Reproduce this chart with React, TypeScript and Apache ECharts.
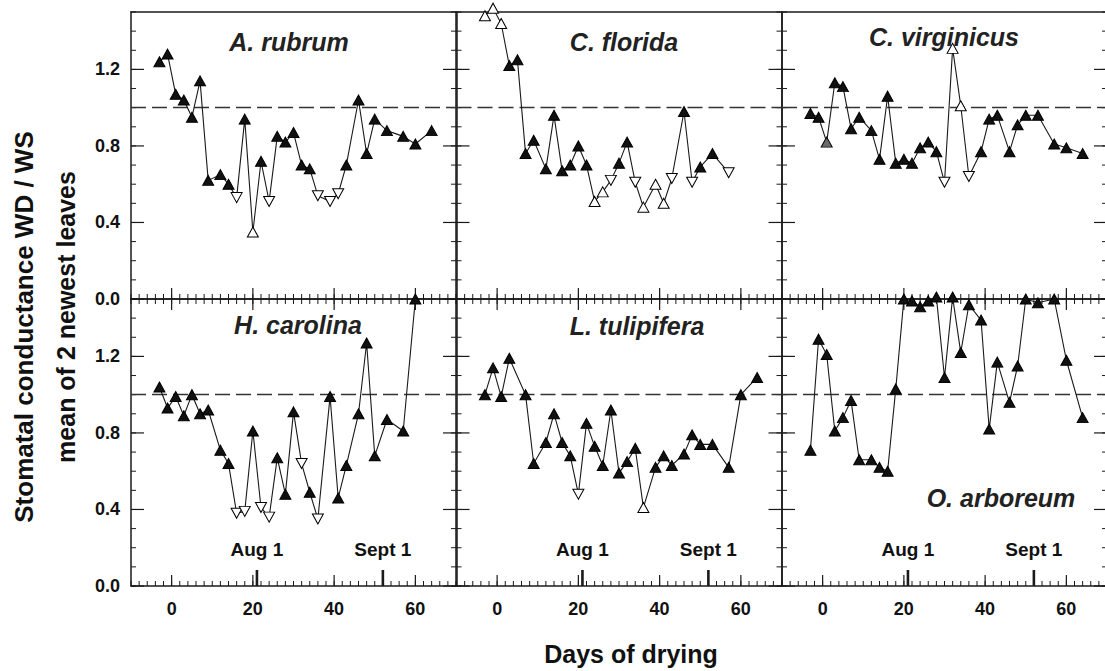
import React, { useEffect, useRef } from 'react';
import * as echarts from 'echarts';

// ---------- data ----------
const speciesNames = ['A. rubrum', 'C. florida', 'C. virginicus', 'H. carolina', 'L. tulipifera', 'O. arboreum'];

const rubrumDays = [-3, -1, 1, 3, 5, 7, 9, 12, 14, 16, 18, 20, 22, 24, 26, 28, 30, 32, 34, 36, 39, 41, 43, 46, 48, 50, 53, 57, 60, 64];
const rubrumValues = [1.24, 1.28, 1.07, 1.04, 0.95, 1.14, 0.62, 0.65, 0.6, 0.53, 0.94, 0.35, 0.72, 0.51, 0.85, 0.82, 0.87, 0.7, 0.68, 0.54, 0.51, 0.55, 0.7, 1.04, 0.76, 0.94, 0.88, 0.85, 0.81, 0.88];
const rubrumKinds = ['f', 'f', 'f', 'f', 'f', 'f', 'f', 'f', 'f', 'd', 'f', 'u', 'f', 'd', 'f', 'f', 'f', 'f', 'f', 'd', 'd', 'd', 'f', 'f', 'f', 'f', 'f', 'f', 'f', 'f'];

const floridaDays = [-3, -1, 1, 3, 5, 7, 9, 12, 14, 16, 18, 20, 22, 24, 26, 28, 30, 32, 34, 36, 39, 41, 43, 46, 48, 50, 53, 57];
const floridaValues = [1.48, 1.52, 1.44, 1.22, 1.25, 0.76, 0.83, 0.68, 0.96, 0.67, 0.7, 0.8, 0.7, 0.51, 0.56, 0.62, 0.71, 0.82, 0.61, 0.48, 0.6, 0.5, 0.63, 0.98, 0.61, 0.69, 0.76, 0.66];
const floridaKinds = ['u', 'u', 'u', 'f', 'f', 'f', 'f', 'f', 'f', 'f', 'f', 'f', 'f', 'u', 'u', 'd', 'f', 'f', 'd', 'u', 'u', 'u', 'd', 'f', 'd', 'f', 'f', 'd'];

const virginicusDays = [-3, -1, 1, 3, 5, 7, 9, 12, 14, 16, 18, 20, 22, 24, 26, 28, 30, 32, 34, 36, 39, 41, 43, 46, 48, 50, 53, 57, 60, 64];
const virginicusValues = [0.97, 0.95, 0.82, 1.13, 1.11, 0.89, 0.95, 0.88, 0.73, 1.06, 0.71, 0.73, 0.71, 0.79, 0.82, 0.77, 0.61, 1.31, 1.01, 0.64, 0.77, 0.94, 0.96, 0.77, 0.91, 0.96, 0.96, 0.81, 0.79, 0.76];
const virginicusKinds = ['f', 'f', 'g', 'f', 'f', 'f', 'f', 'f', 'f', 'f', 'f', 'f', 'f', 'f', 'f', 'f', 'd', 'u', 'u', 'd', 'f', 'f', 'f', 'f', 'f', 'f', 'f', 'f', 'f', 'f'];

const carolinaDays = [-3, -1, 1, 3, 5, 7, 9, 12, 14, 16, 18, 20, 22, 24, 26, 28, 30, 32, 34, 36, 39, 41, 43, 46, 48, 50, 53, 57, 60];
const carolinaValues = [1.04, 0.93, 0.99, 0.89, 1.0, 0.9, 0.92, 0.71, 0.64, 0.38, 0.39, 0.81, 0.41, 0.36, 0.67, 0.48, 0.91, 0.64, 0.49, 0.35, 0.99, 0.46, 0.63, 0.9, 1.27, 0.68, 0.87, 0.81, 1.5];
const carolinaKinds = ['f', 'f', 'f', 'f', 'f', 'f', 'f', 'f', 'f', 'd', 'd', 'f', 'd', 'd', 'f', 'f', 'f', 'd', 'f', 'd', 'f', 'f', 'f', 'f', 'f', 'f', 'f', 'f', 'f'];

const tulipiferaDays = [-3, -1, 1, 3, 7, 9, 12, 14, 16, 18, 20, 22, 24, 26, 28, 30, 32, 34, 36, 39, 41, 43, 46, 48, 50, 53, 57, 60, 64];
const tulipiferaValues = [1.0, 1.14, 0.99, 1.19, 1.0, 0.64, 0.75, 0.9, 0.75, 0.68, 0.48, 0.85, 0.73, 0.63, 0.92, 0.59, 0.65, 0.72, 0.41, 0.62, 0.68, 0.63, 0.69, 0.79, 0.74, 0.74, 0.62, 1.0, 1.09];
const tulipiferaKinds = ['f', 'f', 'f', 'f', 'f', 'f', 'f', 'f', 'f', 'f', 'd', 'f', 'f', 'f', 'f', 'f', 'f', 'f', 'u', 'f', 'f', 'f', 'f', 'f', 'f', 'f', 'f', 'f', 'f'];

const arboreumDays = [-3, -1, 1, 3, 5, 7, 9, 12, 14, 16, 18, 20, 22, 24, 26, 28, 30, 32, 34, 36, 39, 41, 43, 46, 48, 50, 53, 57, 60, 64];
const arboreumValues = [0.71, 1.29, 1.21, 0.81, 0.88, 0.97, 0.66, 0.66, 0.62, 0.6, 1.03, 1.5, 1.49, 1.46, 1.49, 1.51, 1.09, 1.51, 1.22, 1.47, 1.39, 0.82, 1.17, 0.96, 1.15, 1.5, 1.48, 1.5, 1.18, 0.88];
const arboreumKinds = ['f', 'f', 'f', 'f', 'f', 'f', 'f', 'f', 'f', 'f', 'f', 'f', 'f', 'f', 'f', 'f', 'f', 'f', 'f', 'f', 'f', 'f', 'f', 'f', 'f', 'f', 'f', 'f', 'f', 'f'];

const xMajorTicks = [0, 20, 40, 60];
const yMajorTicks = [0, 0.4, 0.8, 1.2];
const dateMarkDays = [21, 52];
const dateMarkLabels = ['Aug 1', 'Sept 1'];
const referenceLevel = 1.0;
const yAxisTitleLines = ['Stomatal conductance WD / WS', 'mean of 2 newest leaves'];
const xAxisTitle = 'Days of drying';

// ---------- layout ----------
const FONT = '"Liberation Sans", Arial, Helvetica, sans-serif';
const GRID_LEFTS = [131, 456.5, 782];
const GRID_TOPS = [12, 299];
const GRID_W = 325;
const GRID_H = 287;
const X_MIN = -10;
const X_MAX = 70;
const X_MINOR_STEP = 2;
const Y_MIN = 0;
const Y_MAX = 1.5;
const Y_MINOR_STEP = 0.1;
const DATE_LABEL_LEVEL = 0.19;
const TITLE_POS = [
  [289, 42],
  [624, 42],
  [944, 37],
  [298, 325],
  [637, 326],
  [1001, 498],
];
const INK = '#1a1a1a';

const panels = [
  { days: rubrumDays, values: rubrumValues, kinds: rubrumKinds },
  { days: floridaDays, values: floridaValues, kinds: floridaKinds },
  { days: virginicusDays, values: virginicusValues, kinds: virginicusKinds },
  { days: carolinaDays, values: carolinaValues, kinds: carolinaKinds },
  { days: tulipiferaDays, values: tulipiferaValues, kinds: tulipiferaKinds },
  { days: arboreumDays, values: arboreumValues, kinds: arboreumKinds },
];

// tick positions along the axes (axis decoration, not data)
const xMinorTicks: number[] = [];
for (let k = X_MIN / X_MINOR_STEP; k <= X_MAX / X_MINOR_STEP; k++) xMinorTicks.push(k * X_MINOR_STEP);
const yMinorTicks: number[] = [];
for (let k = 0; k <= Math.round((Y_MAX - Y_MIN) / Y_MINOR_STEP); k++) yMinorTicks.push(+(Y_MIN + k * Y_MINOR_STEP).toFixed(2));

// side: 0 bottom, 1 top, 2 left, 3 right ; [pos, side, length, width]
function tickItems(row: number): number[][] {
  const out: number[][] = [];
  xMinorTicks.forEach((v) => out.push([v, 0, 5, 1]));
  xMajorTicks.forEach((v) => out.push([v, 0, 11, 1.2]));
  if (row === 1) {
    xMinorTicks.forEach((v) => out.push([v, 1, 5, 1]));
    xMajorTicks.forEach((v) => out.push([v, 1, 11, 1.2]));
    dateMarkDays.forEach((v) => out.push([v, 0, 16, 2.6]));
  }
  [2, 3].forEach((side) => {
    yMinorTicks.forEach((v) => out.push([v, side, 5, 1]));
    yMajorTicks.forEach((v) => out.push([v, side, 13, 1.2]));
  });
  return out;
}

function renderTick(params: any, api: any) {
  const pos = api.value(0);
  const side = api.value(1);
  const len = api.value(2);
  const w = api.value(3);
  const cs = params.coordSys;
  let x1: number, y1: number, x2: number, y2: number;
  if (side === 0 || side === 1) {
    const x = api.coord([pos, Y_MIN])[0];
    const yEdge = side === 0 ? cs.y + cs.height : cs.y;
    x1 = x;
    x2 = x;
    y1 = yEdge;
    y2 = side === 0 ? yEdge - len : yEdge + len;
  } else {
    const y = api.coord([X_MIN, pos])[1];
    const xEdge = side === 2 ? cs.x : cs.x + cs.width;
    y1 = y;
    y2 = y;
    x1 = xEdge;
    x2 = side === 2 ? xEdge + len : xEdge - len;
  }
  return {
    type: 'line',
    shape: { x1, y1, x2, y2 },
    style: { stroke: INK, lineWidth: w },
    silent: true,
  };
}

function buildOption() {
  const grid: any[] = [];
  const xAxis: any[] = [];
  const yAxis: any[] = [];
  const series: any[] = [];
  const graphic: any[] = [];

  const base = (gi: number, isX: boolean, position: string) => ({
    type: 'value',
    gridIndex: gi,
    min: isX ? X_MIN : Y_MIN,
    max: isX ? X_MAX : Y_MAX,
    position,
    axisLine: { show: true, onZero: false, lineStyle: { color: INK, width: 1.5 } },
    axisTick: { show: false },
    axisLabel: { show: false },
    splitLine: { show: false },
  });

  panels.forEach((p, i) => {
    const row = Math.floor(i / 3);
    const col = i % 3;
    grid.push({
      left: GRID_LEFTS[col],
      top: GRID_TOPS[row],
      width: GRID_W,
      height: GRID_H,
      outerBoundsMode: 'none',
      containLabel: false,
    });

    const dataX = xAxis.length;
    xAxis.push({
      ...base(i, true, 'bottom'),
      axisLabel: {
        show: row === 1,
        customValues: xMajorTicks,
        margin: 14,
        color: '#111',
        fontFamily: FONT,
        fontWeight: 'bold',
        fontSize: 18,
      },
    });
    xAxis.push(base(i, true, 'top'));

    const dataY = yAxis.length;
    yAxis.push({
      ...base(i, false, 'left'),
      axisLabel: {
        show: col === 0,
        customValues: yMajorTicks,
        margin: 11,
        color: '#111',
        fontFamily: FONT,
        fontWeight: 'bold',
        fontSize: 18,
        formatter: (v: number) => v.toFixed(1),
      },
    });
    yAxis.push(base(i, false, 'right'));

    // tick marks drawn through the panel's scales
    series.push({
      type: 'custom',
      name: 'ticks' + i,
      xAxisIndex: dataX,
      yAxisIndex: dataY,
      coordinateSystem: 'cartesian2d',
      clip: false,
      silent: true,
      z: 3,
      encode: { x: 0, y: 0 },
      renderItem: renderTick,
      data: tickItems(row),
    });

    const items = p.days.map((d, j) => {
      const k = p.kinds[j];
      const fill = k === 'f' ? '#111' : k === 'g' ? '#6a6a6a' : '#ffffff';
      return {
        value: [d, p.values[j]],
        symbol: 'triangle',
        symbolSize: [11, 10],
        symbolRotate: k === 'd' ? 180 : 0,
        itemStyle: { color: fill, borderColor: '#000', borderWidth: 1 },
      };
    });

    const s: any = {
      type: 'line',
      name: speciesNames[i],
      xAxisIndex: dataX,
      yAxisIndex: dataY,
      clip: false,
      z: 5,
      lineStyle: { color: INK, width: 1.1 },
      data: items,
      markLine: {
        silent: true,
        symbol: 'none',
        label: { show: false },
        lineStyle: { type: [15, 6], color: '#333', width: 1.4 },
        data: [{ yAxis: referenceLevel }],
      },
    };
    if (row === 1) {
      s.markPoint = {
        silent: true,
        symbol: 'circle',
        symbolSize: 1,
        itemStyle: { color: 'rgba(0,0,0,0)' },
        label: {
          show: true,
          position: 'inside',
          formatter: '{b}',
          color: '#111',
          fontFamily: FONT,
          fontWeight: 'bold',
          fontSize: 19,
        },
        data: dateMarkDays.map((d, j) => ({ coord: [d, DATE_LABEL_LEVEL], name: dateMarkLabels[j] })),
      };
    }
    series.push(s);

    graphic.push({
      type: 'text',
      x: TITLE_POS[i][0],
      y: TITLE_POS[i][1],
      z: 10,
      style: {
        text: speciesNames[i],
        font: `italic bold 25px ${FONT}`,
        fill: '#222',
        textAlign: 'center',
        textVerticalAlign: 'middle',
      },
    });
  });

  graphic.push({
    type: 'text',
    x: 24,
    y: 327,
    rotation: Math.PI / 2,
    style: {
      text: yAxisTitleLines[0],
      font: `bold 26px ${FONT}`,
      fill: '#111',
      textAlign: 'center',
      textVerticalAlign: 'middle',
    },
  });
  graphic.push({
    type: 'text',
    x: 66,
    y: 317,
    rotation: Math.PI / 2,
    style: {
      text: yAxisTitleLines[1],
      font: `bold 25px ${FONT}`,
      fill: '#111',
      textAlign: 'center',
      textVerticalAlign: 'middle',
    },
  });
  graphic.push({
    type: 'text',
    x: 631,
    y: 654,
    style: {
      text: xAxisTitle,
      font: `bold 25px ${FONT}`,
      fill: '#111',
      textAlign: 'center',
      textVerticalAlign: 'middle',
    },
  });

  return {
    animation: false,
    backgroundColor: '#ffffff',
    grid,
    xAxis,
    yAxis,
    series,
    graphic,
  };
}

export default function App() {
  const ref = useRef<HTMLDivElement>(null);
  useEffect(() => {
    if (!ref.current) return;
    const chart = echarts.init(ref.current, undefined, { renderer: 'svg' });
    chart.setOption(buildOption() as any);
    return () => chart.dispose();
  }, []);
  return (
    <div
      ref={ref}
      style={{ position: 'fixed', left: 0, top: 0, width: 1105, height: 671, background: '#fff' }}
    />
  );
}
